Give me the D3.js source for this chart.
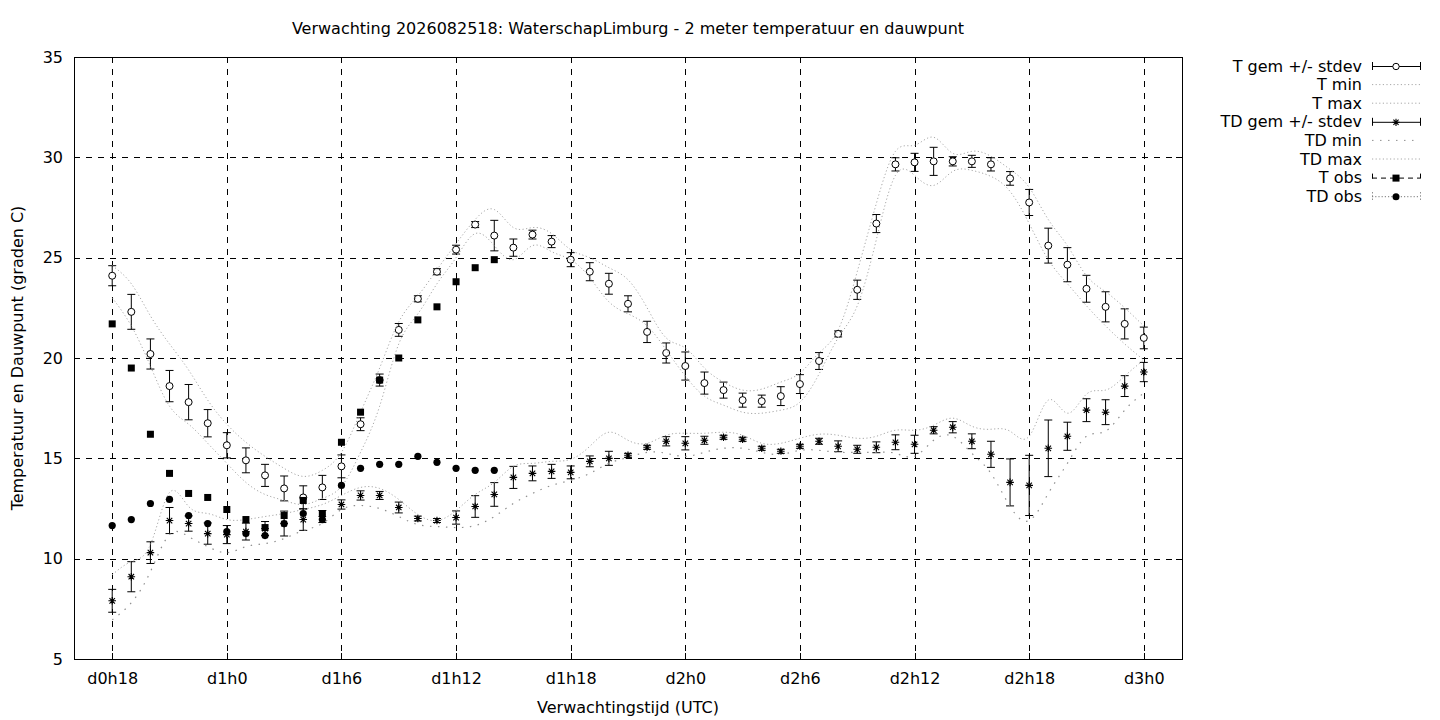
<!DOCTYPE html>
<html>
<head>
<meta charset="utf-8">
<script src="https://cdn.jsdelivr.net/npm/d3@7"></script>
<style>
  body { margin: 0; background: #fff; }
  text { font-family: "DejaVu Sans", sans-serif; font-size: 16px; fill: #000; }
</style>
</head>
<body>
<svg id="grafiek"></svg>
<script>
// 0) Data (uren sinds d0h0)
const uren = [18,19,20,21,22,23,24,25,26,27,28,29,30,31,32,33,34,35,36,37,38,39,40,41,42,43,44,45,
  46,47,48,49,50,51,52,53,54,55,56,57,58,59,60,61,62,63,64,65,66,67,68,69,70,71,72];

const tGem = [24.1,22.3,20.2,18.6,17.8,16.75,15.65,14.9,14.15,13.5,13.05,13.55,14.6,16.7,18.9,21.4,22.95,24.3,25.4,26.65,26.1,25.5,26.15,25.8,
  24.9,24.3,23.7,22.7,21.3,20.25,19.6,18.75,18.4,17.9,17.85,18.1,18.7,19.85,21.2,23.4,26.7,29.65,29.75,29.8,29.8,29.8,29.65,28.95,27.75,25.6,24.65,23.45,22.55,21.7,21.0];
const tSd = [0.5,0.87,0.75,0.78,0.88,0.68,0.63,0.62,0.55,0.62,0.58,0.6,0.57,0.32,0.3,0.32,0.15,0.15,0.22,0.15,0.76,0.43,0.22,0.3,
  0.35,0.45,0.52,0.4,0.53,0.5,0.7,0.55,0.4,0.35,0.3,0.47,0.47,0.42,0.15,0.48,0.45,0.33,0.45,0.7,0.23,0.3,0.33,0.34,0.65,0.87,0.85,0.67,0.75,0.75,0.54];
const tMin = [23.0,21.6,19.6,17.6,16.7,15.75,14.75,13.8,13.2,12.9,12.7,13.0,13.6,15.3,17.6,20.7,22.2,23.7,25.0,26.2,25.6,24.9,25.6,25.3,
  24.9,24.0,22.8,22.2,21.6,20.4,19.1,18.1,17.65,17.3,17.25,17.4,17.8,19.2,21.0,22.6,25.9,29.1,29.1,28.6,29.3,29.35,29.05,28.3,26.7,24.9,23.7,22.6,21.6,20.7,19.9];
const tMax = [24.6,23.7,22.1,20.7,19.4,17.9,16.7,15.8,15.1,14.5,14.1,14.4,15.3,17.3,19.5,21.8,23.1,24.4,25.7,26.9,27.4,26.5,26.5,26.2,
  25.4,25.0,24.5,23.9,22.5,21.0,20.5,19.5,18.8,18.4,18.45,18.8,19.25,20.25,21.4,24.3,27.7,30.3,30.6,31.0,30.2,30.3,30.05,29.4,28.5,26.9,25.6,24.1,23.3,22.5,21.6];

const tdGem = [7.9,9.1,10.3,11.9,11.75,11.25,11.2,11.35,11.5,11.75,11.95,12.1,12.7,13.15,13.15,12.55,12.0,11.9,12.05,12.6,13.2,14.05,14.25,14.35,
  14.3,14.85,15.0,15.15,15.55,15.85,15.75,15.9,16.05,15.95,15.5,15.35,15.6,15.85,15.6,15.45,15.55,15.8,15.7,16.4,16.55,15.85,15.2,13.8,13.65,15.5,16.1,17.4,17.3,18.6,19.3];
const tdSd = [0.57,0.75,0.54,0.65,0.38,0.53,0.45,0.42,0.35,0.62,0.54,0.3,0.23,0.23,0.2,0.27,0.12,0.1,0.33,0.54,0.59,0.55,0.37,0.35,
  0.32,0.27,0.35,0.1,0.1,0.23,0.33,0.2,0.1,0.1,0.1,0.1,0.1,0.15,0.27,0.2,0.27,0.37,0.45,0.18,0.28,0.37,0.65,1.17,1.5,1.41,0.7,0.57,0.62,0.52,0.48];
const tdMin = [6.95,7.8,9.35,11.2,11.1,10.6,10.3,10.6,10.75,11.0,11.4,11.75,12.45,12.65,12.5,12.1,11.7,11.6,11.55,11.65,12.1,12.75,13.25,13.65,
  13.9,14.25,14.75,15.05,15.3,15.25,15.1,15.3,15.5,15.5,15.3,15.2,15.4,15.4,15.3,15.3,15.3,15.25,15.1,15.9,16.1,15.25,14.25,12.6,11.9,13.25,14.75,16.1,16.35,17.4,18.25];
const tdMax = [9.2,9.85,10.7,13.3,12.6,12.25,11.95,11.95,12.1,12.25,12.45,12.7,13.15,13.55,13.5,12.95,12.2,11.9,12.4,13.2,13.8,14.6,14.75,14.85,
  14.95,15.6,16.3,15.9,15.75,16.15,16.25,16.25,16.3,16.15,15.75,15.75,16.0,16.2,16.15,16.0,16.1,16.4,16.4,16.65,17.0,16.6,16.45,16.35,16.1,17.9,17.25,18.2,18.4,19.1,19.9];

const obsUren = [18,19,20,21,22,23,24,25,26,27,28,29,30,31,32,33,34,35,36,37,38];
const tObs = [21.7,19.5,16.2,14.25,13.25,13.05,12.45,11.95,11.55,12.15,12.9,12.25,15.8,17.3,18.9,20.0,21.9,22.55,23.8,24.5,24.9];
const tdObs = [11.65,11.95,12.75,12.95,12.15,11.75,11.35,11.25,11.15,11.75,12.25,11.95,13.65,14.5,14.7,14.7,15.1,14.8,14.5,14.4,14.4];

const xTicks = [18,24,30,36,42,48,54,60,66,72];
const xTickLabels = ["d0h18","d1h0","d1h6","d1h12","d1h18","d2h0","d2h6","d2h12","d2h18","d3h0"];
const yTicks = [5,10,15,20,25,30,35];

const titel = "Verwachting 2026082518: WaterschapLimburg - 2 meter temperatuur en dauwpunt";
const legendaNamen = ["T gem +/- stdev","T min","T max","TD gem +/- stdev","TD min","TD max","T obs","TD obs"];

// 1) Afmetingen en schalen
const WIDTH = 1440;
const HEIGHT = 720;
const margins = { top: 57, bottom: 61, left: 74, right: 258 };

const svg = d3.select("#grafiek")
  .attr("width", WIDTH)
  .attr("height", HEIGHT);

const x = d3.scaleLinear().domain([16, 74]).range([margins.left, WIDTH - margins.right]);
const y = d3.scaleLinear().domain([5, 35]).range([HEIGHT - margins.bottom, margins.top]);

const [x0, x1] = x.range();
const [yb, yt] = y.range();

// 2) Raster (gestreept)
const raster = svg.append("g").attr("stroke", "#000").attr("stroke-width", 1)
  .attr("stroke-dasharray", "6,6").attr("shape-rendering", "crispEdges");
raster.selectAll(".vx").data(xTicks).join("line")
  .attr("x1", d => Math.round(x(d)) + 0.5).attr("x2", d => Math.round(x(d)) + 0.5)
  .attr("y1", yt).attr("y2", yb);
raster.selectAll(".hy").data(yTicks.filter(d => d > 5 && d < 35)).join("line")
  .attr("y1", d => Math.round(y(d)) + 0.5).attr("y2", d => Math.round(y(d)) + 0.5)
  .attr("x1", x0).attr("x2", x1);

// 3) Assen met labels (ticks naar binnen)
const ejeX = svg.append("g")
  .attr("transform", `translate(0,${yb})`)
  .call(d3.axisBottom(x).tickValues(xTicks).tickFormat((d, i) => xTickLabels[i]).tickSize(-6).tickPadding(14));
const ejeY = svg.append("g")
  .attr("transform", `translate(${x0},0)`)
  .call(d3.axisLeft(y).tickValues(yTicks).tickSize(-6).tickPadding(11));
const ejeTop = svg.append("g")
  .attr("transform", `translate(0,${yt})`)
  .call(d3.axisTop(x).tickValues(xTicks).tickFormat("").tickSize(-6));
const ejeRight = svg.append("g")
  .attr("transform", `translate(${x1},0)`)
  .call(d3.axisRight(y).tickValues(yTicks).tickFormat("").tickSize(-6));
[ejeX, ejeY, ejeTop, ejeRight].forEach(g => {
  g.select(".domain").remove();
  g.selectAll("line").attr("stroke", "#000").attr("shape-rendering", "crispEdges");
  g.selectAll("text").attr("font-family", null).attr("font-size", null);
});
ejeX.selectAll("text").attr("dy", "0.71em");

svg.append("rect")
  .attr("x", x0 + 0.5).attr("y", yt + 0.5)
  .attr("width", x1 - x0).attr("height", yb - yt)
  .attr("fill", "none").attr("stroke", "#000").attr("shape-rendering", "crispEdges");

// titels
svg.append("text").attr("x", (x0 + x1) / 2).attr("y", 34).attr("text-anchor", "middle").text(titel);
svg.append("text").attr("x", (x0 + x1) / 2).attr("y", 713).attr("text-anchor", "middle").text("Verwachtingstijd (UTC)");
svg.append("text").attr("transform", `translate(23,${(yt + yb) / 2}) rotate(-90)`)
  .attr("text-anchor", "middle").text("Temperatuur en Dauwpunt (graden C)");

// 4) Hulpfuncties voor symbolen
const plot = svg.append("g");

const lijnMinMax = (waarden, stroke, dash, width) => {
  const gen = d3.line().x((d, i) => x(uren[i])).y(d => y(d)).curve(d3.curveNatural);
  plot.append("path").datum(waarden)
    .attr("d", gen).attr("fill", "none")
    .attr("stroke", stroke).attr("stroke-width", width).attr("stroke-dasharray", dash);
};

const foutBalken = (g, gem, sd) => {
  const cap = 4;
  const data = gem.map((v, i) => ({ h: uren[i], v, sd: sd[i] }));
  const balk = g.selectAll(".balk").data(data).join("g").attr("class", "balk")
    .attr("stroke", "#000").attr("stroke-width", 1).attr("fill", "none");
  balk.append("line")
    .attr("x1", d => x(d.h)).attr("x2", d => x(d.h))
    .attr("y1", d => y(d.v - d.sd)).attr("y2", d => y(d.v + d.sd));
  balk.append("line")
    .attr("x1", d => x(d.h) - cap).attr("x2", d => x(d.h) + cap)
    .attr("y1", d => y(d.v + d.sd)).attr("y2", d => y(d.v + d.sd));
  balk.append("line")
    .attr("x1", d => x(d.h) - cap).attr("x2", d => x(d.h) + cap)
    .attr("y1", d => y(d.v - d.sd)).attr("y2", d => y(d.v - d.sd));
  return data;
};

const sterPad = r => {
  const a = r * 0.72;
  return `M${-r},0H${r}M0,${-r}V${r}M${-a},${-a}L${a},${a}M${-a},${a}L${a},${-a}`;
};

// 5) Series in gnuplot-volgorde
const gT = plot.append("g");
const dataT = foutBalken(gT, tGem, tSd);
gT.selectAll(".pt").data(dataT).join("circle")
  .attr("cx", d => x(d.h)).attr("cy", d => y(d.v)).attr("r", 3.5)
  .attr("fill", "#fff").attr("stroke", "#000").attr("stroke-width", 1);

lijnMinMax(tMin, "#a8a8a8", "1.2,2.4", 1);
lijnMinMax(tMax, "#a8a8a8", "1.2,2.4", 1);

const gTD = plot.append("g");
const dataTD = foutBalken(gTD, tdGem, tdSd);
gTD.selectAll(".pt").data(dataTD).join("path")
  .attr("transform", d => `translate(${x(d.h)},${y(d.v)})`)
  .attr("d", sterPad(3.8)).attr("fill", "none").attr("stroke", "#000").attr("stroke-width", 1.1);

lijnMinMax(tdMin, "#909090", "1.5,6.5", 1.2);
lijnMinMax(tdMax, "#a8a8a8", "1.2,2.4", 1);

plot.append("g").selectAll("rect").data(obsUren).join("rect")
  .attr("x", (d, i) => x(d) - 3.5).attr("y", (d, i) => y(tObs[i]) - 3.5)
  .attr("width", 7).attr("height", 7).attr("fill", "#000");

plot.append("g").selectAll("circle").data(obsUren).join("circle")
  .attr("cx", d => x(d)).attr("cy", (d, i) => y(tdObs[i])).attr("r", 3.6).attr("fill", "#000");

// 6) Legenda
const legenda = svg.append("g");
const lx0 = 1372, lx1 = 1420, tekstX = 1362;
const rij = legenda.selectAll(".rij").data(legendaNamen).join("g")
  .attr("class", "rij")
  .attr("transform", (d, i) => `translate(0,${66 + i * 18.6})`);
rij.append("text").attr("x", tekstX).attr("y", 0).attr("dy", "0.35em")
  .attr("text-anchor", "end").text(d => d);

const monster = [
  { soort: "fout", punt: "cirkel" },
  { soort: "lijn", stroke: "#a8a8a8", dash: "1.2,2.4" },
  { soort: "lijn", stroke: "#a8a8a8", dash: "1.2,2.4" },
  { soort: "fout", punt: "ster" },
  { soort: "lijn", stroke: "#909090", dash: "1.5,6.5" },
  { soort: "lijn", stroke: "#a8a8a8", dash: "1.2,2.4" },
  { soort: "obs", punt: "vierkant", dash: "5,4" },
  { soort: "obs", punt: "bol", dash: "1.2,2" }
];
rij.each(function (d, i) {
  const g = d3.select(this);
  const m = monster[i];
  const mid = (lx0 + lx1) / 2;
  if (m.soort === "lijn") {
    g.append("line").attr("x1", lx0).attr("x2", lx1).attr("y1", 0).attr("y2", 0)
      .attr("stroke", m.stroke).attr("stroke-dasharray", m.dash);
    return;
  }
  const dash = m.soort === "obs" ? m.dash : null;
  const kleur = m.soort === "obs" && m.punt === "bol" ? "#777" : "#000";
  g.append("line").attr("x1", lx0).attr("x2", lx1).attr("y1", 0.5).attr("y2", 0.5)
    .attr("stroke", kleur).attr("stroke-dasharray", dash);
  [lx0, lx1].forEach(cx => g.append("line").attr("x1", cx + 0.5).attr("x2", cx + 0.5)
    .attr("y1", -4).attr("y2", 4).attr("stroke", kleur).attr("stroke-dasharray", dash));
  if (m.punt === "cirkel") {
    g.append("circle").attr("cx", mid).attr("cy", 0.5).attr("r", 3.2)
      .attr("fill", "#fff").attr("stroke", "#000");
  } else if (m.punt === "ster") {
    g.append("path").attr("transform", `translate(${mid},0.5)`).attr("d", sterPad(3.6))
      .attr("fill", "none").attr("stroke", "#000").attr("stroke-width", 1.1);
  } else if (m.punt === "vierkant") {
    g.append("rect").attr("x", mid - 3.5).attr("y", -3).attr("width", 7).attr("height", 7).attr("fill", "#000");
  } else {
    g.append("circle").attr("cx", mid).attr("cy", 0.5).attr("r", 3.5).attr("fill", "#000");
  }
});
</script>
</body>
</html>
